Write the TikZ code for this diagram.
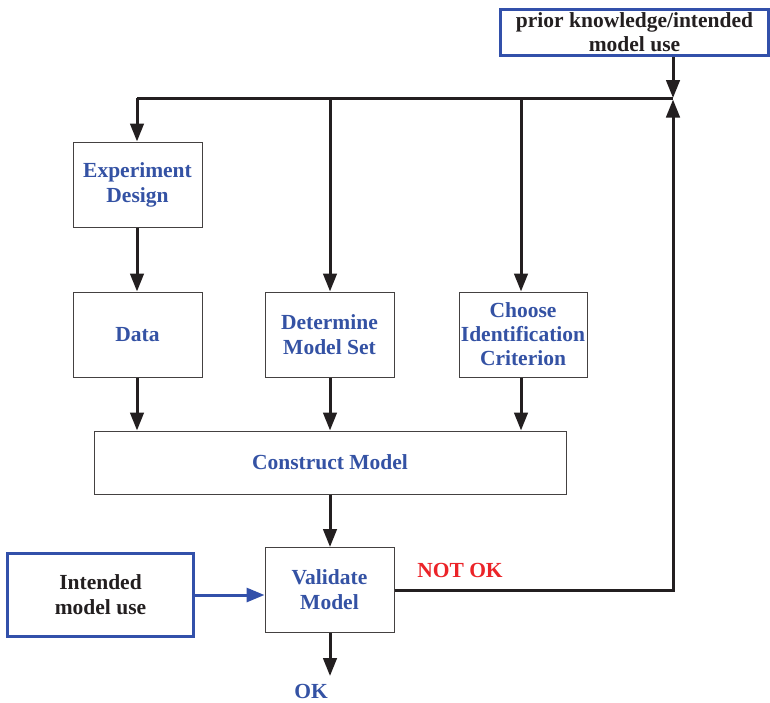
\documentclass[tikz,border=0pt]{standalone}
\usepackage{fontspec}
\setmainfont{Liberation Serif}
\usetikzlibrary{arrows.meta,calc}
\definecolor{txtblue}{RGB}{52,82,164}
\definecolor{boxblue}{RGB}{50,80,170}
\definecolor{notred}{RGB}{235,35,40}
\definecolor{linegray}{RGB}{35,31,32}
\tikzset{
  box/.style={draw=linegray!85!white, line width=1pt, fill=white, align=center,
    text=txtblue, font=\fontsize{21.5}{25}\selectfont\bfseries,
    minimum width=129pt, minimum height=85pt, inner sep=1pt},
  bluebox/.style={draw=boxblue, line width=3.2pt, fill=white, align=center,
    text=linegray, font=\fontsize{21.5}{25}\selectfont\bfseries, inner sep=1pt},
  flow/.style={draw=linegray, line width=3pt, line join=miter, -{Triangle[length=18pt,width=13.5pt]}},
  flowline/.style={draw=linegray, line width=3pt},
  blueflow/.style={draw=boxblue, line width=3pt, -{Triangle[length=18pt,width=14pt]}},
}
\begin{document}
\begin{tikzpicture}[x=1pt,y=-1pt]
\useasboundingbox (0,0) rectangle (770,702);
% nodes
\node[bluebox, minimum width=268pt, minimum height=46pt] (prior) at (634.5,32.5) {prior knowledge/intended\\[-1pt]model use};
\node[box] (exp) at (137.5,184.5) {Experiment\\Design};
\node[box] (data) at (137.5,334.5) {Data};
\node[box] (dms) at (329.5,334.5) {Determine\\Model Set};
\node[box, minimum width=128pt] (cic) at (523,334.5) {Choose\\[-1pt]Identification\\[-1pt]Criterion};
\node[box, minimum width=472pt, minimum height=63pt] (cons) at (330,462.5) {Construct Model};
\node[box] (val) at (329.5,590) {Validate\\Model};
\node[bluebox, minimum width=186pt, minimum height=83pt] (intd) at (100.5,595) {Intended\\model use};
\node[text=notred, font=\fontsize{21.5}{25}\selectfont\bfseries] (notok) at (460,570) {NOT OK};
\node[text=txtblue, font=\fontsize{21.5}{25}\selectfont\bfseries] (ok) at (311,691) {OK};
% coordinates
\coordinate (j1) at (137,98);
\coordinate (j2) at (330,98);
\coordinate (j3) at (521,98);
\coordinate (j4) at (673,98);
\coordinate (okend) at (330,676);
% connectors
\draw[flowline] (j1) -- (j4);
\draw[flow] (prior.south -| j4) -- (j4);
\draw[flow] (j1) -- (j1 |- exp.north);
\draw[flow] (exp.south -| j1) -- (data.north -| j1);
\draw[flow] (j2) -- (j2 |- dms.north);
\draw[flow] (j3) -- (j3 |- cic.north);
\draw[flow] (data.south -| j1) -- (cons.north -| j1);
\draw[flow] (dms.south -| j2) -- (cons.north -| j2);
\draw[flow] (cic.south -| j3) -- (cons.north -| j3);
\draw[flow] (cons.south -| j2) -- (val.north -| j2);
\draw[blueflow] (intd.east) -- (val.west |- intd.east);
\draw[flow] (val.south -| okend) -- (okend);
\draw[flow] (val.east) -- (val.east -| j4) -- ($(j4)+(0,1.5)$);
\end{tikzpicture}
\end{document}
